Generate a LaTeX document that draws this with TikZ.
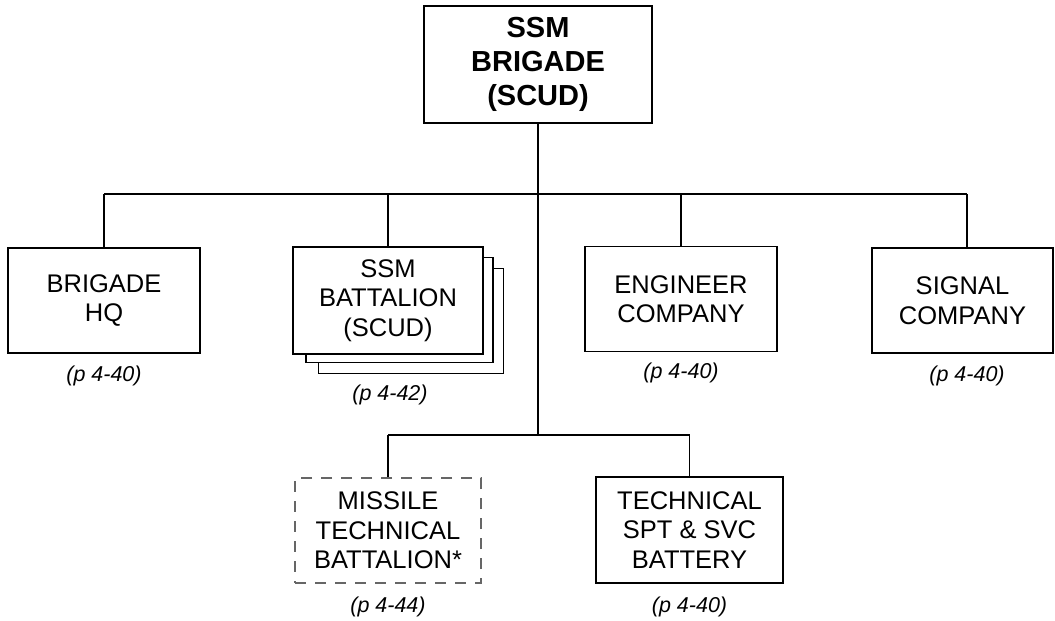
\documentclass[tikz,border=0pt]{standalone}
\usepackage{fontspec}
\setmainfont{Liberation Sans}
\usepackage{xcolor}
\usepackage{tikz}
\usetikzlibrary{calc}

\begin{document}
\begin{tikzpicture}[x=1pt, y=-1pt, line width=1.3pt,
    unit/.style={draw, fill=white, align=center, inner sep=0pt,
      minimum width=192pt, minimum height=105pt,
      font=\fontsize{25.5}{29.5}\selectfont},
    pageref/.style={font=\fontsize{21.5}{24}\selectfont\itshape}]
  \useasboundingbox (0,0) rectangle (1055,621);

  % top of the tree
  \node[unit, minimum width=228pt, minimum height=117pt,
    font=\fontsize{29}{34}\selectfont\bfseries] (brigade) at (538,64.5) {SSM\\BRIGADE\\(SCUD)};

  % first row
  \node[unit] (hq) at (104,300.5) {BRIGADE\\HQ};
  \node[unit, minimum width=185pt] (bnc) at (411,321) {};
  \node[unit, minimum width=187pt] (bnb) at (399.5,310) {};
  \node[unit, minimum width=190pt, minimum height=107pt] (bn) at (388,300.5) {SSM\\BATTALION\\(SCUD)};
  \node[unit] (eng) at (681,299) {ENGINEER\\COMPANY};
  \node[unit, minimum width=181pt] (sig) at (962.5,300.5) {SIGNAL\\COMPANY};

  % second row
  \node[unit, draw=black!60, line width=1.2pt, dash pattern=on 11pt off 9pt,
    minimum width=186pt] (mtb) at (388,530.5) {MISSILE\\TECHNICAL\\BATTALION*};
  \node[unit, minimum width=187pt, minimum height=106pt] (tech) at (689.5,530) {TECHNICAL\\SPT \& SVC\\BATTERY};

  % page references
  \node[pageref] (hqref) at (104,376) {(p 4-40)};
  \node[pageref] (bnref) at (390,395) {(p 4-42)};
  \node[pageref] (engref) at (681,373) {(p 4-40)};
  \node[pageref] (sigref) at (967,376) {(p 4-40)};
  \node[pageref] (mtbref) at (388,607) {(p 4-44)};
  \node[pageref] (techref) at (689.5,607) {(p 4-40)};

  % connectors
  \coordinate (busL) at (104,194);
  \coordinate (busR) at (967,194);
  \coordinate (lowC) at (538,435);
  \coordinate (lowL) at (388,435);
  \coordinate (lowR) at (689.5,435);

  \draw (busL) -- (busR);
  \draw (brigade.south) -- (lowC);
  \draw (busL) -- (hq.north);
  \draw (bn.north |- busL) -- (bn.north);
  \draw (eng.north |- busL) -- (eng.north);
  \draw (busR) -- (busR |- sig.north);
  \draw (lowL) -- (lowR);
  \draw (lowL) -- (mtb.north);
  \draw (lowR) -- (tech.north);
\end{tikzpicture}
\end{document}
